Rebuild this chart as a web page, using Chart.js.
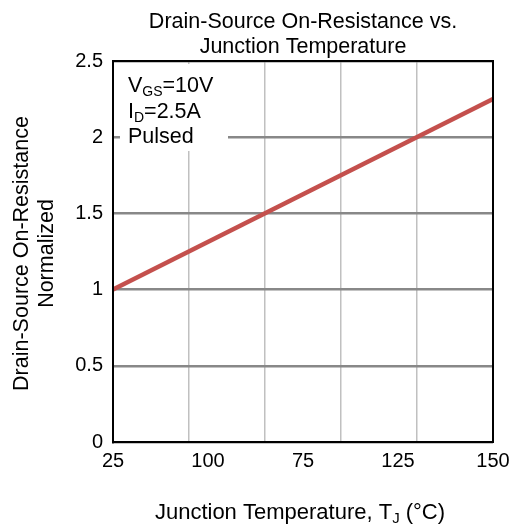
<!DOCTYPE html>
<html><head><meta charset="utf-8">
<script src="https://cdn.jsdelivr.net/npm/chart.js@4.4.1/dist/chart.umd.min.js"></script>
<style>html,body{margin:0;padding:0;background:#fff}canvas{display:block}</style>
</head><body>
<canvas id="c" width="514" height="527"></canvas>
<script>
// ---- data ----
const temperatures = [25, 150];
const resistanceNormalized = [1, 2.25];
const gridTemps = [25, 50, 75, 100, 125, 150];
const xTickValues = [25, 56.25, 87.5, 118.75, 150];
const xTickLabels = ['25', '100', '75', '125', '150'];
const yTicks = [0, 0.5, 1, 1.5, 2, 2.5];
const titleLines = ['Drain-Source On-Resistance vs.', 'Junction Temperature'];
const yTitleLines = ['Drain-Source On-Resistance', 'Normalized'];
const xTitleParts = [{t: 'Junction Temperature, T'}, {t: 'J', sub: true}, {t: ' (\u00B0C)'}];
const noteLines = [
  [{t: 'V'}, {t: 'GS', sub: true}, {t: '=10V'}],
  [{t: 'I'}, {t: 'D', sub: true}, {t: '=2.5A'}],
  [{t: 'Pulsed'}]
];

const FONT = '"Liberation Sans", Arial, Helvetica, sans-serif';
const allXTicks = Array.from(new Set(gridTemps.concat(xTickValues))).sort((a, b) => a - b);

function richWidth(ctx, parts, size) {
  let w = 0;
  for (const p of parts) {
    ctx.font = (p.sub ? Math.round(size * 0.66) : size) + 'px ' + FONT;
    w += ctx.measureText(p.t).width;
  }
  return w;
}
function drawRich(ctx, parts, x, y, size) {
  for (const p of parts) {
    const s = p.sub ? Math.round(size * 0.66) : size;
    ctx.font = s + 'px ' + FONT;
    ctx.fillText(p.t, x, p.sub ? y + size * 0.2 : y);
    x += ctx.measureText(p.t).width;
  }
}

const decor = {
  id: 'decor',
  afterDraw(chart) {
    const {ctx, chartArea: a} = chart;
    ctx.save();
    // frame
    ctx.strokeStyle = '#000';
    ctx.lineWidth = 2;
    ctx.strokeRect(a.left, a.top, a.right - a.left, a.bottom - a.top);
    // note box
    ctx.fillStyle = '#fff';
    ctx.fillRect(a.left + 7, a.top + 3, 108, 87);
    ctx.fillStyle = '#000';
    ctx.textAlign = 'left';
    ctx.textBaseline = 'alphabetic';
    const nb = [a.top + 31, a.top + 57, a.top + 82];
    noteLines.forEach((ln, i) => drawRich(ctx, ln, a.left + 15, nb[i], 21.5));
    // main title
    ctx.textAlign = 'center';
    ctx.font = '21.5px ' + FONT;
    const cx = (a.left + a.right) / 2;
    ctx.fillText(titleLines[0], cx, 28);
    ctx.fillText(titleLines[1], cx, 53);
    // x title
    ctx.textAlign = 'left';
    const w = richWidth(ctx, xTitleParts, 22);
    drawRich(ctx, xTitleParts, 300 - w / 2, 519, 22);
    // y title
    const cy = (a.top + a.bottom) / 2 + 2;
    [[28, yTitleLines[0]], [53, yTitleLines[1]]].forEach(([x, s]) => {
      ctx.save();
      ctx.translate(x, cy);
      ctx.rotate(-Math.PI / 2);
      ctx.textAlign = 'center';
      ctx.font = '21.5px ' + FONT;
      ctx.fillText(s, 0, 0);
      ctx.restore();
    });
    ctx.restore();
  }
};

new Chart(document.getElementById('c'), {
  type: 'line',
  data: {
    datasets: [{
      data: temperatures.map((t, i) => ({x: t, y: resistanceNormalized[i]})),
      borderColor: '#c4504d',
      borderWidth: 4.5,
      pointRadius: 0,
      tension: 0,
      fill: false
    }]
  },
  options: {
    responsive: false,
    animation: false,
    devicePixelRatio: 1,
    layout: {padding: {top: 61, right: 21, bottom: 0, left: 0}},
    plugins: {legend: {display: false}, title: {display: false}, tooltip: {enabled: false}},
    scales: {
      x: {
        type: 'linear',
        min: 25, max: 150,
        afterBuildTicks: axis => { axis.ticks = allXTicks.map(v => ({value: v})); },
        afterFit: scale => { scale.height = 85; scale.paddingRight = 0; scale.paddingLeft = 0; },
        ticks: {
          autoSkip: false, maxRotation: 0, padding: 7, color: '#000',
          font: {size: 20, family: FONT},
          callback: v => { const i = xTickValues.indexOf(v); return i >= 0 ? xTickLabels[i] : ''; }
        },
        grid: {
          drawTicks: false,
          lineWidth: 1.5,
          color: c => (c.tick && gridTemps.includes(c.tick.value)) ? '#c0c0c0' : 'rgba(0,0,0,0)'
        },
        border: {color: '#000', width: 2}
      },
      y: {
        min: 0, max: 2.5,
        afterBuildTicks: axis => { axis.ticks = yTicks.map(v => ({value: v})); },
        afterFit: scale => { scale.width = 113; scale.paddingTop = 0; scale.paddingBottom = 0; },
        ticks: {padding: 10, color: '#000', font: {size: 20, family: FONT}, callback: v => String(v)},
        grid: {drawTicks: false, lineWidth: 2.5, color: '#888888'},
        border: {color: '#000', width: 2}
      }
    }
  },
  plugins: [decor]
});
</script>
</body></html>
